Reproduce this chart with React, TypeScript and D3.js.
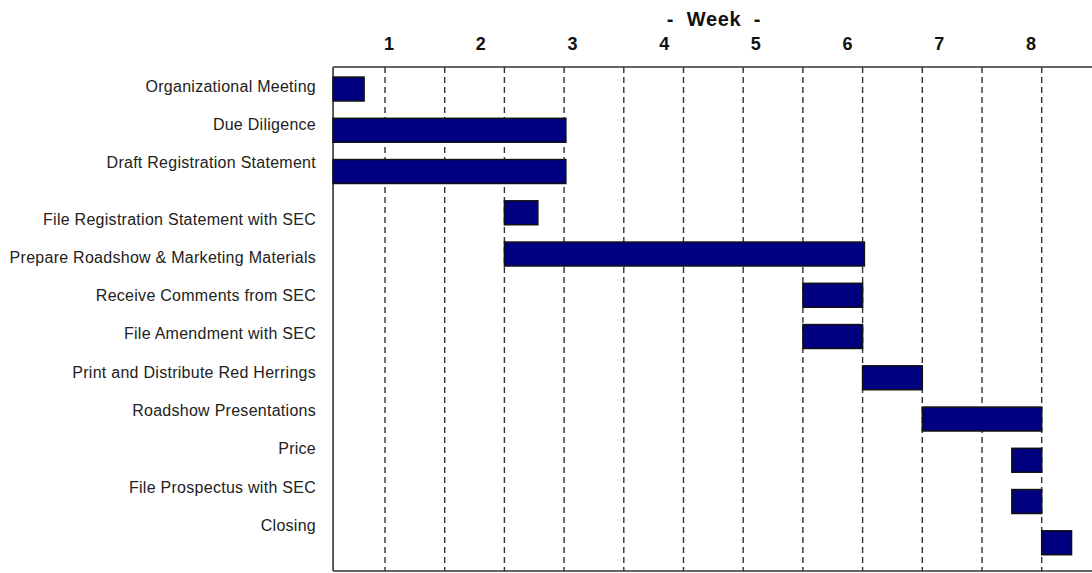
import React from "react";
import * as d3 from "d3";

const categories = [
  "Organizational Meeting",
  "Due Diligence",
  "Draft Registration Statement",
  "File Registration Statement with SEC",
  "Prepare Roadshow & Marketing Materials",
  "Receive Comments from SEC",
  "File Amendment with SEC",
  "Print and Distribute Red Herrings",
  "Roadshow Presentations",
  "Price",
  "File Prospectus with SEC",
  "Closing",
];

// time in grid-period units (dashed gridlines are at integer values)
const AXIS_START = 0.13;
const starts = [AXIS_START, AXIS_START, AXIS_START, 3, 3, 8, 8, 9, 10, 11.5, 11.5, 12];
const ends = [0.65, 4.03, 4.03, 3.56, 9.03, 9, 9, 10, 12, 12, 12, 12.5];

const gridTicks = [1, 2, 3, 4, 5, 6, 7, 8, 9, 10, 11, 12];
const weekLabels = ["1", "2", "3", "4", "5", "6", "7", "8"];

const W = 1092;
const H = 573;

export default function App() {
  const x = d3.scaleLinear().domain([0, 13]).range([325.3, 325.3 + 13 * 59.7]);
  const y = d3
    .scaleBand<string>()
    .domain(categories)
    .range([68.4, 563.4])
    .paddingInner(0.42)
    .paddingOuter(0.21);
  const weekX = d3.scalePoint<string>().domain(weekLabels).range([389, 1031]);
  const labelY = d3.scaleLinear().domain([0, 11]).range([86, 86 + 38.3 * 11]);

  const left = x(AXIS_START);
  const top = 67;
  const bottom = 571;
  const font = "'Liberation Sans', Arial, Helvetica, sans-serif";

  return (
    <svg
      width={W}
      height={H}
      style={{ position: "absolute", left: 0, top: 0, background: "#fff" }}
      fontFamily={font}
    >
      <rect x={0} y={0} width={W} height={H} fill="#fff" />
      {/* Title */}
      <text x={670} y={26} fontSize={20} fontWeight="bold" textAnchor="middle" fill="#111">-</text>
      <text x={714} y={26} fontSize={20} fontWeight="bold" textAnchor="middle" fill="#111" letterSpacing={0.6}>Week</text>
      <text x={757} y={26} fontSize={20} fontWeight="bold" textAnchor="middle" fill="#111">-</text>
      {/* Week labels */}
      {weekLabels.map((w) => (
        <text
          key={w}
          x={weekX(w)}
          y={50}
          fontSize={18}
          fontWeight="bold"
          textAnchor="middle"
          fill="#111"
        >
          {w}
        </text>
      ))}
      {/* Gridlines */}
      {gridTicks.map((t) => (
        <line
          key={t}
          x1={x(t)}
          x2={x(t)}
          y1={top}
          y2={bottom}
          stroke="#333"
          strokeWidth={1.4}
          strokeDasharray="6,4"
        />
      ))}
      {/* Frame */}
      <line x1={left} x2={W} y1={top} y2={top} stroke="#333" strokeWidth={1.6} />
      <line x1={left} x2={W} y1={bottom} y2={bottom} stroke="#333" strokeWidth={1.6} />
      <line x1={left} x2={left} y1={top} y2={bottom} stroke="#333" strokeWidth={1.6} />
      {/* Bars */}
      {categories.map((c, i) => (
        <rect
          key={c}
          x={x(starts[i])}
          y={y(c)}
          width={x(ends[i]) - x(starts[i])}
          height={y.bandwidth()}
          fill="#000080"
          stroke="#111"
          strokeWidth={1.5}
        />
      ))}
      {/* Task labels */}
      {categories.map((c, i) => (
        <text
          key={c}
          x={316}
          y={labelY(i + (i >= 3 ? 0.47 : 0))}
          dy="0.35em"
          fontSize={16}
          letterSpacing={0.27}
          textAnchor="end"
          fill="#222"
        >
          {c}
        </text>
      ))}
    </svg>
  );
}
